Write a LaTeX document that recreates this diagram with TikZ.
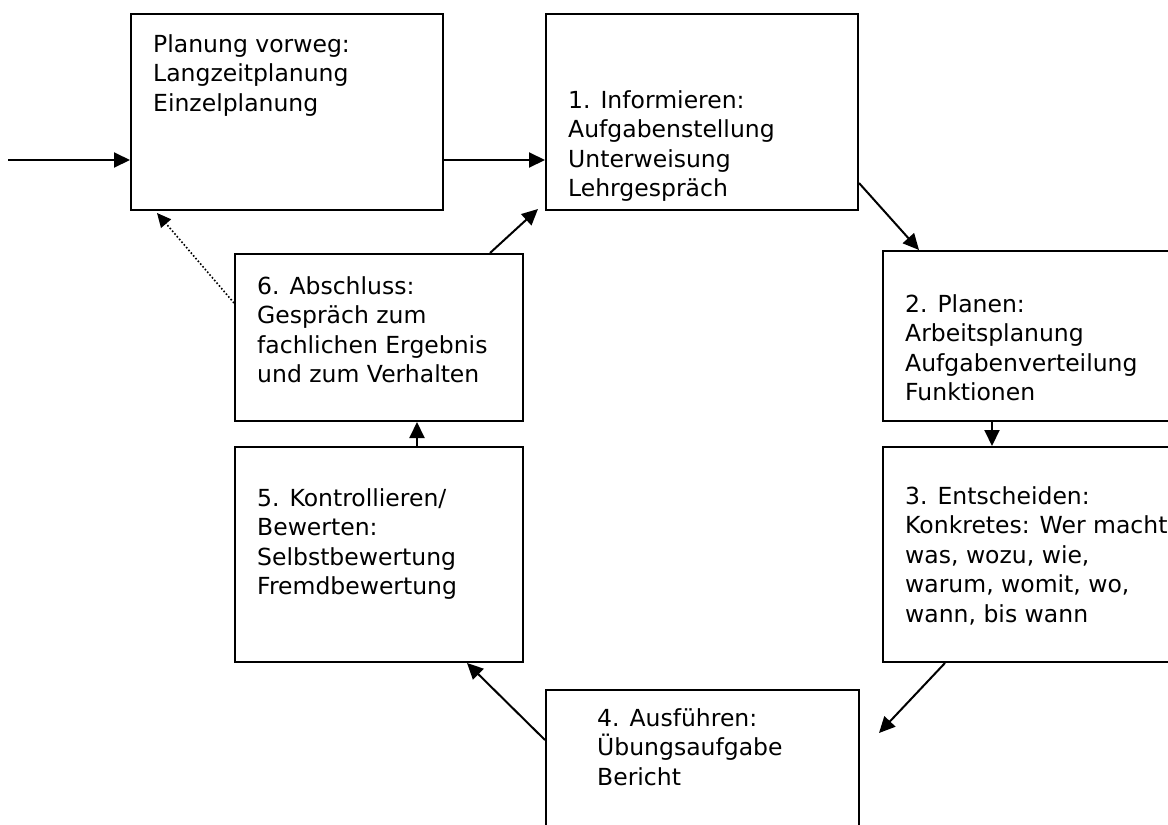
\documentclass[tikz,border=0pt]{standalone}
\usepackage{fontspec}
\setmainfont{DejaVu Sans}
\usetikzlibrary{arrows.meta,calc}
\begin{document}
\begin{tikzpicture}[x=1pt,y=-1pt,
  box/.style={draw,line width=2pt,anchor=north west,inner sep=0pt},
  txt/.style={anchor=north west,align=left,inner sep=0pt,font=\fontsize{23.5}{29.5}\selectfont},
  arr/.style={line width=2pt,-{Triangle[length=16pt,width=15pt]}},
  dotarr/.style={line width=1.6pt,dotted,-{Triangle[length=14pt,width=13pt]}}]
\useasboundingbox (0,0) rectangle (1168,825);
% boxes
\node[box,minimum width=312pt,minimum height=196pt] (A) at (130,13) {};
\node[box,minimum width=312pt,minimum height=196pt] (B1) at (545,13) {};
\node[box,minimum width=300pt,minimum height=170pt] (B2) at (882,250) {};
\node[box,minimum width=300pt,minimum height=215pt] (B3) at (882,446) {};
\node[box,minimum width=313pt,minimum height=150pt] (B4) at (545,689) {};
\node[box,minimum width=288pt,minimum height=215pt] (B5) at (234,446) {};
\node[box,minimum width=288pt,minimum height=167pt] (B6) at (234,253) {};
% texts
\node[txt] (tA) at (153,34) {Planung vorweg:\\Langzeitplanung\\Einzelplanung};
\node[txt] (t1) at (568,90) {1. Informieren:\\Aufgabenstellung\\Unterweisung\\Lehrgespräch};
\node[txt] (t2) at (905,294) {2. Planen:\\Arbeitsplanung\\Aufgabenverteilung\\Funktionen};
\node[txt] (t3) at (905,486) {3. Entscheiden:\\Konkretes: Wer macht\\was, wozu, wie,\\warum, womit, wo,\\wann, bis wann};
\node[txt] (t4) at (597,708) {4. Ausführen:\\Übungsaufgabe\\Bericht};
\node[txt] (t5) at (257,488) {5. Kontrollieren/\\Bewerten:\\Selbstbewertung\\Fremdbewertung};
\node[txt] (t6) at (257,276) {6. Abschluss:\\Gespräch zum\\fachlichen Ergebnis\\und zum Verhalten};
% coordinates
\coordinate (s) at (8,160);
\coordinate (free) at ($(B4.north east)+(19,44)$);
% connectors
\draw[arr] (s) -- ($(A.north west)+(0,147)$);
\draw[arr] ($(A.north east)+(0,147)$) -- ($(B1.north west)+(0,147)$);
\draw[arr] ($(B1.north east)+(0,170)$) -- ($(B2.north west)+(37,0)$);
\draw[arr] ($(B2.south west)+(110,0)$) -- ($(B3.north west)+(110,0)$);
\draw[arr] ($(B3.south west)+(63,0)$) -- (free);
\draw[arr] ($(B4.north west)+(0,51)$) -- ($(B5.south west)+(233,0)$);
\draw[arr] ($(B5.north west)+(183,0)$) -- ($(B6.south west)+(183,0)$);
\draw[arr] ($(B6.north west)+(256,0)$) -- ($(B1.south west)+(-7,-2)$);
\draw[dotarr] ($(B6.north west)+(0,50)$) -- ($(A.south west)+(27,2)$);
\end{tikzpicture}
\end{document}
